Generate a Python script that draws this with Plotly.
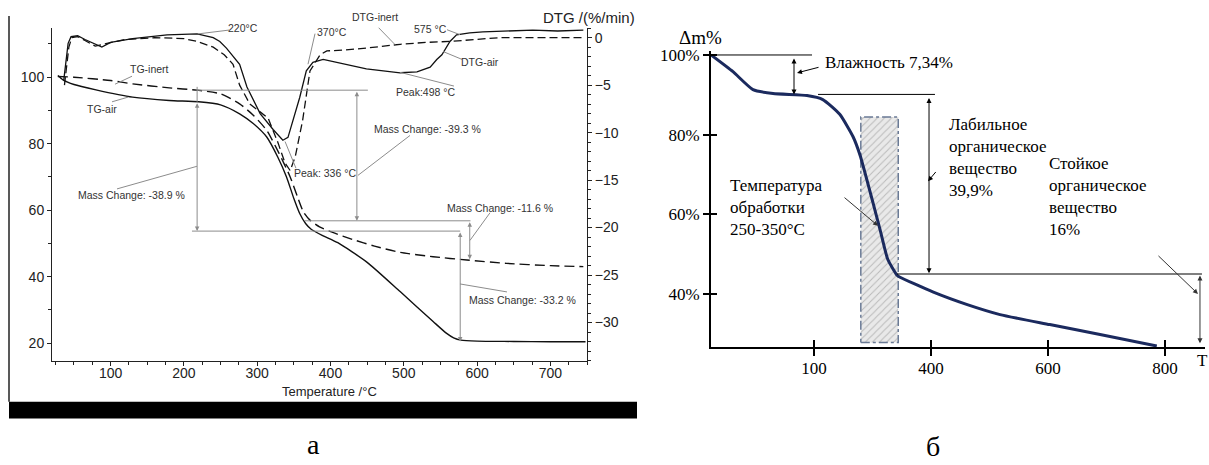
import plotly.graph_objects as go

W, H = 1209, 465

# ---------------- data: panel (а) ----------------
tg_air_T = [28, 35, 50, 80, 130, 180, 220, 250, 276, 295, 313, 328, 340, 350, 358, 366, 374, 390, 410, 450, 495, 540, 558, 568, 578, 600, 650, 700, 748]
tg_air_v = [100.5, 99.2, 97.8, 96.2, 94.0, 93.0, 92.6, 91.7, 89.0, 86.0, 82.0, 76.0, 70.0, 63.5, 59.0, 56.0, 54.2, 52.3, 50.2, 44.3, 35.5, 26.5, 23.0, 21.6, 20.9, 20.6, 20.5, 20.4, 20.4]

tg_inert_T = [28, 50, 100, 130, 180, 218, 250, 276, 295, 313, 330, 345, 355, 363, 372, 385, 403, 430, 460, 495, 540, 586, 640, 700, 745]
tg_inert_v = [100.2, 100.0, 99.0, 98.0, 96.8, 96.1, 95.0, 92.0, 88.5, 84.0, 77.0, 70.0, 64.0, 59.5, 57.0, 55.0, 53.3, 51.2, 49.2, 47.3, 46.0, 45.0, 44.0, 43.3, 43.0]

dtg_air_T = [36, 39, 42, 46, 55, 65, 79, 88, 100, 130, 177, 218, 240, 249, 258, 267, 276, 286, 295, 304, 322, 335, 342, 349, 358, 367, 376, 390, 420, 449, 495, 518, 536, 545, 552, 563, 572, 590, 608, 640, 676, 710, 745]
dtg_air_d = [-4.5, -2.5, -0.6, 0.1, 0.2, -0.2, -0.7, -1.0, -0.5, -0.1, 0.3, 0.4, 0.0, -0.4, -1.1, -2.0, -2.8, -5.2, -6.6, -8.0, -9.7, -10.8, -10.5, -8.7, -6.3, -3.5, -2.6, -2.3, -2.8, -3.3, -3.7, -3.6, -3.1, -2.3, -1.8, -0.4, 0.3, 0.5, 0.6, 0.7, 0.8, 0.7, 0.8]

dtg_inert_T = [37, 40, 43, 47, 55, 65, 79, 95, 120, 160, 200, 218, 240, 255, 267, 276, 290, 302, 315, 328, 338, 345, 352, 362, 372, 386, 395, 420, 449, 495, 530, 563, 600, 631, 680, 745]
dtg_inert_d = [-5.0, -3.0, -1.0, 0.0, 0.1, -0.3, -0.9, -0.6, -0.2, 0.0, -0.1, -0.4, -1.0, -1.8, -2.8, -5.0, -7.0, -7.7, -8.5, -11.0, -13.2, -14.0, -12.5, -8.7, -3.5, -1.8, -1.4, -1.3, -1.1, -0.7, -0.5, -0.4, -0.2, 0.0, 0.0, 0.0]

mass_changes = [-38.9, -39.3, -11.6, -33.2]
air_start_level = 92.6     # TG-air at 218 °C
inert_start_level = 96.1   # TG-inert at 218 °C

# ---------------- data: panel (б) ----------------
b_T = [24, 61.5, 95.7, 130, 188, 215, 244, 267, 279, 301, 313, 326, 342, 347, 403, 462, 518, 603, 689, 786]
b_v = [100.0, 95.8, 91.3, 90.3, 89.8, 88.8, 85.1, 79.4, 74.7, 62.8, 56.1, 48.7, 44.7, 44.2, 40.5, 37.3, 34.8, 32.3, 29.8, 26.9]
band_T = [280, 344]
band_v = [27.8, 84.4]
b_tickvals = [200, 400, 600, 800]
b_ticktext = ["100", "400", "600", "800"]
b_ytickvals = [40, 60, 80, 100]
b_yticktext = ["40%", "60%", "80%", "100%"]

SANS = "Liberation Sans"
SERIF = "Liberation Serif"
GRAY = "#8c8c8c"
TXT = "#333333"
NAVY = "#1b2a5e"

fig = go.Figure()

# panel a traces
fig.add_trace(go.Scatter(x=tg_air_T, y=tg_air_v, mode="lines", line=dict(color="#111", width=1.4, shape="spline", smoothing=0.6), xaxis="x", yaxis="y", hoverinfo="skip"))
fig.add_trace(go.Scatter(x=tg_inert_T, y=tg_inert_v, mode="lines", line=dict(color="#111", width=1.4, dash="10px,5px", shape="spline", smoothing=0.6), xaxis="x", yaxis="y", hoverinfo="skip"))
fig.add_trace(go.Scatter(x=dtg_air_T, y=dtg_air_d, mode="lines", line=dict(color="#111", width=1.3), xaxis="x", yaxis="y2", hoverinfo="skip"))
fig.add_trace(go.Scatter(x=dtg_inert_T, y=dtg_inert_d, mode="lines", line=dict(color="#111", width=1.3, dash="8px,4px"), xaxis="x", yaxis="y2", hoverinfo="skip"))

# panel b traces
fig.add_trace(go.Scatter(
    x=[band_T[0], band_T[1], band_T[1], band_T[0], band_T[0]],
    y=[band_v[0], band_v[0], band_v[1], band_v[1], band_v[0]],
    mode="lines", fill="toself", fillcolor="#e6e6e6",
    fillpattern=dict(shape="/", bgcolor="#e9e9e9", fgcolor="#8a8a8a", size=5, solidity=0.2),
    line=dict(color="#6a7a95", width=1.5, dash="dashdot"),
    xaxis="x3", yaxis="y3", hoverinfo="skip"))
fig.add_trace(go.Scatter(x=b_T, y=b_v, mode="lines", line=dict(color=NAVY, width=3, shape="spline", smoothing=0.5), xaxis="x3", yaxis="y3", hoverinfo="skip"))
# invisible trace for the overlay axes (inner half of crossing ticks)
fig.add_trace(go.Scatter(x=[b_T[0]], y=[b_v[0]], mode="markers", marker=dict(opacity=0), xaxis="x4", yaxis="y4", hoverinfo="skip"))

def px2x(px):
    return px / W

def px2y(py):
    return 1 - py / H

xl_dom = [px2x(52), px2x(587)]
yl_dom = [px2y(360), px2y(23)]
xr_dom = [px2x(711), px2x(1205)]
yr_dom = [px2y(346), px2y(46.5)]

axis_a = dict(showgrid=False, zeroline=False, showline=True, linecolor="#222", linewidth=1,
              ticks="outside", ticklen=4, tickcolor="#222", tickfont=dict(family=SANS, size=14, color="#222"))
fig.update_layout(
    width=W, height=H, margin=dict(l=0, r=0, t=0, b=0), autosize=False,
    paper_bgcolor="white", plot_bgcolor="rgba(0,0,0,0)", showlegend=False,
    xaxis=dict(domain=xl_dom, range=[20, 750], anchor="y", tick0=0, dtick=100, ticklabelstandoff=-5,
               minor=dict(dtick=25, ticks="outside", ticklen=3, tickcolor="#222"), **axis_a),
    yaxis=dict(domain=yl_dom, range=[14.58, 114.88], anchor="x", tick0=0, dtick=20,
               minor=dict(dtick=10, ticks="outside", ticklen=3, tickcolor="#222"), **axis_a),
    yaxis2=dict(overlaying="y", side="right", anchor="x", range=[-34.06, 1.04], tick0=0, dtick=5,
                minor=dict(dtick=1, ticks="outside", ticklen=2.5, tickcolor="#222"), **axis_a),
    xaxis3=dict(domain=xr_dom, range=[23.9, 868.4], anchor="y3", tickvals=b_tickvals, ticktext=b_ticktext,
                ticklabelstandoff=-3,
                showgrid=False, zeroline=False, showline=True, linecolor="black", linewidth=2,
                ticks="outside", ticklen=7, tickwidth=2, tickcolor="black",
                tickfont=dict(family=SERIF, size=17, color="black")),
    yaxis3=dict(domain=yr_dom, range=[26.6, 101.0], anchor="x3", tickvals=b_ytickvals, ticktext=b_yticktext,
                showgrid=False, zeroline=False, showline=True, linecolor="black", linewidth=2,
                ticks="outside", ticklen=6, tickwidth=2, tickcolor="black",
                tickfont=dict(family=SERIF, size=17, color="black")),
    xaxis4=dict(overlaying="x3", anchor="y3", range=[23.9, 868.4], tickvals=b_tickvals, showticklabels=False,
                showgrid=False, zeroline=False, showline=False, ticks="inside", ticklen=7, tickwidth=2, tickcolor="black"),
    yaxis4=dict(overlaying="y3", anchor="x3", range=[26.6, 101.0], tickvals=b_ytickvals, showticklabels=False,
                showgrid=False, zeroline=False, showline=False, ticks="inside", ticklen=6, tickwidth=2, tickcolor="black"),
)

shapes = []
ann = []

def line(x0, y0, x1, y1, xref, yref, color=GRAY, width=1):
    shapes.append(dict(type="line", x0=x0, y0=y0, x1=x1, y1=y1, xref=xref, yref=yref,
                       line=dict(color=color, width=width)))

def arrow(x0, y0, x1, y1, xref, yref, color=GRAY, both=True, width=1, size=0.9):
    ann.append(dict(x=x1, y=y1, ax=x0, ay=y0, xref=xref, yref=yref, axref=xref, ayref=yref,
                    text="", showarrow=True, arrowhead=2, arrowsize=size, arrowwidth=width,
                    arrowcolor=color, arrowside="end+start" if both else "end",
                    startarrowhead=2, startarrowsize=size, standoff=0, startstandoff=0))

def label(x, y, text, xref, yref, size=10.5, color=TXT, family=SANS, xanchor="center", align="center"):
    ann.append(dict(x=x, y=y, xref=xref, yref=yref, text=text, showarrow=False,
                    font=dict(family=family, size=size, color=color), xanchor=xanchor, yanchor="middle", align=align))

# ---------- panel a: mass change construction ----------
air_end1 = air_start_level + mass_changes[0]
inert_end1 = inert_start_level + mass_changes[1]
inert_end2 = inert_end1 + mass_changes[2]
air_end2 = air_end1 + mass_changes[3]

line(218, inert_start_level, 451, inert_start_level, "x", "y")
line(218, air_start_level, 218, inert_start_level + 1.0, "x", "y")
arrow(218, air_start_level, 218, air_end1, "x", "y")
line(211, air_end1, 577, air_end1, "x", "y")
arrow(436, inert_start_level, 436, inert_end1, "x", "y")
line(365, inert_end1, 591, inert_end1, "x", "y")
arrow(590, inert_end1, 590, inert_end2, "x", "y")
arrow(577, air_end1, 577, air_end2, "x", "y")

# leader lines (panel a)
line(220, 0.4, 262, 0.8, "x", "y2")
line(378.9, 0.42, 369.3, -2.8, "x", "y2")
line(456.6, 1.77, 488, -0.73, "x", "y2")
line(559, 0.83, 576.7, 0.31, "x", "y2")
line(553.5, -1.46, 579.4, -2.29, "x", "y2")
line(494.8, -3.65, 568.5, -5.1, "x", "y2")
line(508.5, -10.3, 437.5, -14.5, "x", "y2")
line(338, -10.94, 352.9, -13.75, "x", "y2")
line(129.2, 100.3, 106, 97.9, "x", "y")
line(101.9, 92.6, 123.7, 94.0, "x", "y")
line(108.7, 66.4, 217.8, 73.2, "x", "y")
line(617.6, 59.2, 590.3, 50.9, "x", "y")
line(640.8, 35.4, 576.7, 37.8, "x", "y")

# labels (panel a)
label(280, 1.0, "220°C", "x", "y2")
label(402, 0.6, "370°C", "x", "y2")
ann.append(dict(x=px2x(375), y=px2y(12), xref="paper", yref="paper", text="DTG-inert", showarrow=False,
                font=dict(family=SANS, size=10.5, color=TXT), xanchor="center", yanchor="middle"))
label(535.8, 0.9, "575 °C", "x", "y2")
label(604, -2.6, "DTG-air", "x", "y2")
label(529, -5.73, "Peak:498 °C", "x", "y2")
label(533, -9.58, "Mass Change: -39.3 %", "x", "y2")
label(392.5, -14.27, "Peak: 336 °C", "x", "y2")
label(153.7, 102.4, "TG-inert", "x", "y")
label(88.2, 90.5, "TG-air", "x", "y")
label(127.8, 64.6, "Mass Change: -38.9 %", "x", "y")
label(631.3, 60.7, "Mass Change: -11.6 %", "x", "y")
label(662.6, 33.0, "Mass Change: -33.2 %", "x", "y")

# axis titles (panel a)
ann.append(dict(x=399.3, y=px2y(391), xref="x", yref="paper", text="Temperature /°C", showarrow=False,
                font=dict(family=SANS, size=13, color="#222"), xanchor="center", yanchor="middle"))
ann.append(dict(x=px2x(589), y=px2y(13), xref="paper", yref="paper", text="DTG /(%/min)", showarrow=False,
                font=dict(family=SANS, size=15, color="#222"), xanchor="center", yanchor="middle"))

# ---------- panel b ----------
line(24, 100, 196.6, 100, "x3", "y3", color="black")
arrow(165.8, 99.5, 165.8, 90.1, "x3", "y3", color="black", size=1.0)
arrow(210.3, 97.0, 170.9, 95.5, "x3", "y3", color="black", both=False, size=1.0)
line(206.8, 90.1, 406.8, 90.1, "x3", "y3", color="black")
arrow(396.6, 89.6, 396.6, 45.2, "x3", "y3", color="black", size=1.0)
arrow(410.3, 71.0, 394.9, 68.3, "x3", "y3", color="black", both=False, size=1.0)
line(341.9, 45.0, 863.2, 45.0, "x3", "y3", color="black")
arrow(859.8, 45.0, 859.8, 27.6, "x3", "y3", color="#333", size=1.0)
arrow(786.3, 49.9, 856.4, 40.0, "x3", "y3", color="#333", both=False, size=1.0)
arrow(249.6, 64.5, 309.4, 57.1, "x3", "y3", color="#333", both=False, size=1.0)

label(215.4, 98.0, "Влажность 7,34%", "x3", "y3", size=17, color="black", family=SERIF, xanchor="left", align="left")
label(427.4, 74.2, "Лабильное<br>органическое<br>вещество<br>39,9%", "x3", "y3", size=17, color="black", family=SERIF, xanchor="left", align="left")
label(598.3, 64.5, "Стойкое<br>органическое<br>вещество<br>16%", "x3", "y3", size=17, color="black", family=SERIF, xanchor="left", align="left")
label(53, 61.8, "Температура<br>обработки<br>250-350°C", "x3", "y3", size=17, color="black", family=SERIF, xanchor="left", align="left")
ann.append(dict(x=px2x(700), y=px2y(33), xref="paper", yref="paper", text="Δm%", showarrow=False,
                font=dict(family=SERIF, size=19, color="black"), xanchor="center", yanchor="middle"))
ann.append(dict(x=px2x(1202), y=px2y(359), xref="paper", yref="paper", text="T", showarrow=False,
                font=dict(family=SERIF, size=17, color="black"), xanchor="center", yanchor="middle"))

# ---------- frame decorations & panel letters ----------
shapes.append(dict(type="line", xref="paper", yref="paper", x0=px2x(9), x1=px2x(9), y0=px2y(11), y1=px2y(401),
                   line=dict(color="#222", width=1.5)))
shapes.append(dict(type="rect", xref="paper", yref="paper", x0=px2x(9), x1=px2x(637), y0=px2y(418), y1=px2y(401),
                   fillcolor="black", line=dict(width=0)))
ann.append(dict(x=px2x(313), y=px2y(444), xref="paper", yref="paper", text="а", showarrow=False,
                font=dict(family=SERIF, size=28, color="black"), xanchor="center", yanchor="middle"))
ann.append(dict(x=px2x(933), y=px2y(446), xref="paper", yref="paper", text="б", showarrow=False,
                font=dict(family=SERIF, size=28, color="black"), xanchor="center", yanchor="middle"))

fig.update_layout(shapes=shapes, annotations=ann)
fig.write_html("out.html", config={"displayModeBar": False},
               post_script="document.body.style.margin='0px';document.body.style.overflow='hidden';")
